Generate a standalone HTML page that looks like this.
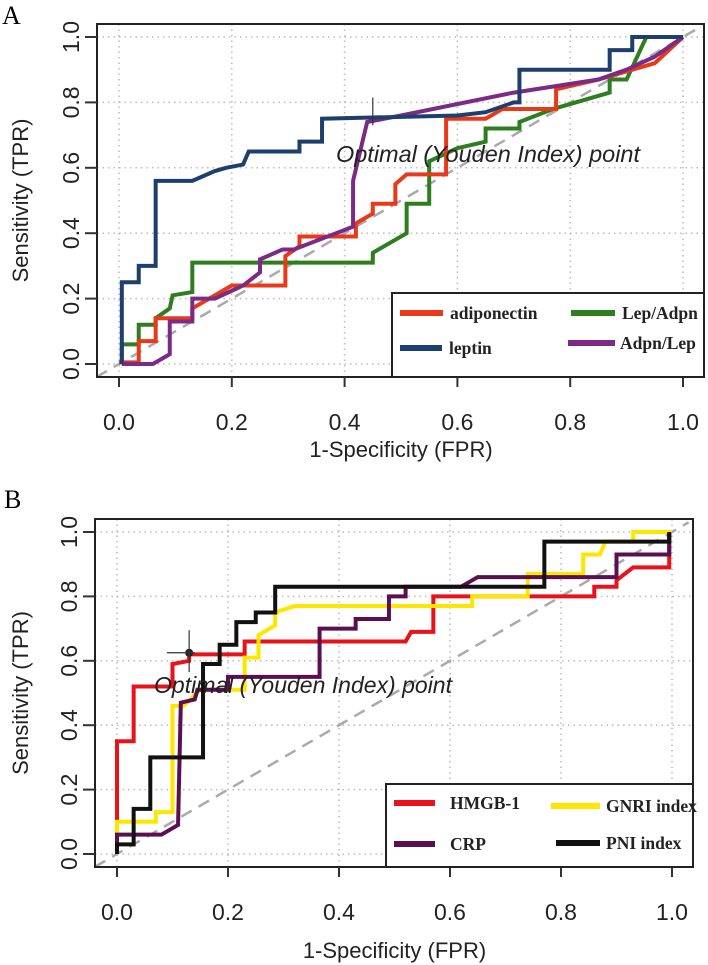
<!DOCTYPE html>
<html><head><meta charset="utf-8"><style>
body{margin:0;background:#fff;}
svg{display:block;font-family:"Liberation Sans",sans-serif;}
</style></head><body>
<svg id="fig" width="708" height="965"></svg>
<script>
const ticks=[0,0.2,0.4,0.6,0.8,1.0];
const tickLabels=["0.0","0.2","0.4","0.6","0.8","1.0"];
const seriesAnames=["adiponectin","leptin","Lep/Adpn","Adpn/Lep"];
const adiponectin=[[0,0.005],[0.035,0.005],[0.035,0.07],[0.065,0.07],[0.065,0.14],[0.13,0.14],[0.13,0.17],[0.20,0.24],[0.295,0.24],[0.295,0.33],[0.32,0.36],[0.32,0.39],[0.42,0.39],[0.42,0.43],[0.45,0.46],[0.45,0.49],[0.49,0.49],[0.49,0.55],[0.51,0.58],[0.58,0.58],[0.58,0.75],[0.65,0.75],[0.68,0.78],[0.775,0.78],[0.775,0.84],[0.85,0.87],[0.95,0.92],[1,1]];
const leptin=[[0.005,0],[0.005,0.25],[0.035,0.25],[0.035,0.30],[0.065,0.30],[0.065,0.56],[0.13,0.56],[0.17,0.59],[0.19,0.60],[0.22,0.61],[0.23,0.65],[0.32,0.65],[0.32,0.68],[0.36,0.68],[0.36,0.75],[0.6,0.76],[0.65,0.77],[0.70,0.80],[0.71,0.80],[0.71,0.90],[0.87,0.90],[0.87,0.96],[0.91,0.96],[0.91,1.0],[1,1]];
const lepAdpn=[[0.005,0],[0.005,0.06],[0.035,0.06],[0.035,0.12],[0.065,0.12],[0.065,0.14],[0.09,0.17],[0.095,0.21],[0.13,0.22],[0.13,0.31],[0.45,0.31],[0.45,0.34],[0.51,0.40],[0.51,0.49],[0.55,0.49],[0.55,0.62],[0.6,0.66],[0.65,0.68],[0.65,0.72],[0.71,0.72],[0.71,0.74],[0.77,0.78],[0.87,0.83],[0.87,0.87],[0.90,0.87],[0.935,1.0],[1,1]];
const adpnLep=[[0.005,0],[0.06,0],[0.09,0.03],[0.09,0.13],[0.13,0.13],[0.13,0.2],[0.17,0.2],[0.22,0.24],[0.25,0.28],[0.25,0.32],[0.29,0.35],[0.31,0.35],[0.4,0.41],[0.415,0.42],[0.415,0.56],[0.44,0.74],[0.5,0.76],[0.7,0.83],[0.85,0.87],[0.9,0.9],[0.95,0.94],[1,1]];
const optimalA=[0.45,0.75];
const hmgb1=[[0,0],[0,0.35],[0.03,0.35],[0.03,0.52],[0.10,0.52],[0.10,0.59],[0.13,0.60],[0.13,0.62],[0.23,0.62],[0.23,0.66],[0.52,0.66],[0.53,0.69],[0.57,0.69],[0.57,0.80],[0.86,0.80],[0.86,0.83],[0.9,0.83],[0.9,0.85],[0.93,0.89],[0.995,0.89],[0.995,1.0]];
const gnri=[[0,0],[0,0.1],[0.07,0.1],[0.07,0.13],[0.10,0.13],[0.10,0.46],[0.12,0.46],[0.15,0.51],[0.23,0.51],[0.23,0.61],[0.255,0.61],[0.255,0.68],[0.285,0.71],[0.285,0.75],[0.32,0.77],[0.64,0.77],[0.64,0.80],[0.74,0.80],[0.74,0.87],[0.84,0.87],[0.84,0.93],[0.87,0.93],[0.88,0.97],[0.93,0.97],[0.93,1.0],[1,1]];
const crp=[[0,0],[0,0.06],[0.08,0.06],[0.11,0.09],[0.115,0.47],[0.14,0.48],[0.145,0.51],[0.2,0.51],[0.2,0.55],[0.365,0.55],[0.365,0.70],[0.43,0.70],[0.43,0.73],[0.49,0.73],[0.49,0.80],[0.52,0.80],[0.52,0.83],[0.62,0.83],[0.65,0.86],[0.9,0.86],[0.9,0.93],[0.995,0.93],[0.995,1.0]];
const pni=[[0,0],[0,0.03],[0.03,0.03],[0.03,0.14],[0.06,0.14],[0.06,0.30],[0.155,0.30],[0.155,0.59],[0.185,0.59],[0.185,0.65],[0.215,0.65],[0.215,0.72],[0.25,0.72],[0.25,0.75],[0.285,0.75],[0.285,0.83],[0.77,0.83],[0.77,0.97],[0.995,0.97],[0.995,1.0]];
const optimalB=[0.13,0.625];

const NS="http://www.w3.org/2000/svg";
const svg=document.getElementById('fig');
function mk(tag,attrs,parent){const e=document.createElementNS(NS,tag);for(const k in attrs)e.setAttribute(k,attrs[k]);(parent||svg).appendChild(e);return e;}

function panel(P){
  const g=mk('g',{});
  
  
  const sx=v=>P.x0+v*(P.x1-P.x0), sy=v=>P.y0+v*(P.y1-P.y0);
  const lbl=mk('text',{x:P.lx,y:P.ly,'font-family':'Liberation Serif','font-size':26},g);lbl.textContent=P.letter;
  
  
  ticks.forEach(t=>{
    mk('line',{x1:sx(t),x2:sx(t),y1:P.by0,y2:P.by1,stroke:'#bbb','stroke-width':1.5,'stroke-dasharray':'1.5 4'},g);
    mk('line',{x1:P.bx0,x2:P.bx1,y1:sy(t),y2:sy(t),stroke:'#bbb','stroke-width':1.5,'stroke-dasharray':'1.5 4'},g);
  });
  mk('line',{x1:sx(-0.04),y1:sy(-0.04),x2:sx(1.03),y2:sy(1.03),stroke:'#aaa','stroke-width':2.5,'stroke-dasharray':'12 8'},g);
  P.series.forEach(s=>{
    const pl=mk('polyline',{points:s.d.map(p=>sx(p[0])+','+sy(p[1])).join(' '),fill:'none',stroke:s.c,'stroke-width':4,'stroke-linejoin':'miter'},g);
    
    
  });
  const o=P.opt;
  if(P.dot){mk('circle',{cx:sx(o[0]),cy:sy(o[1]),r:4,fill:'#222'},g);
    mk('line',{x1:sx(o[0]-0.04),x2:sx(o[0]+0.01),y1:sy(o[1]),y2:sy(o[1]),stroke:'#333','stroke-width':1.2},g);
    mk('line',{x1:sx(o[0]),x2:sx(o[0]),y1:sy(o[1]+0.07),y2:sy(o[1]-0.06),stroke:'#333','stroke-width':1.2},g);}
  else{mk('line',{x1:sx(o[0]),x2:sx(o[0]),y1:sy(o[1]+0.065),y2:sy(o[1]-0.02),stroke:'#333','stroke-width':1.2},g);}
  const ot=mk('text',{x:P.tx,y:P.ty,'font-size':23,'font-style':'italic',fill:'#222',textLength:P.tw,lengthAdjust:'spacingAndGlyphs'},g);
  ot.textContent='Optimal (Youden Index) point';
  
  
  mk('rect',{x:P.bx0,y:P.by0,width:P.bx1-P.bx0,height:P.by1-P.by0,fill:'none',stroke:'#222','stroke-width':2},g);
  ticks.forEach((t,i)=>{
    mk('line',{x1:sx(t),x2:sx(t),y1:P.by1,y2:P.by1+10,stroke:'#333','stroke-width':2},g);
    const tx=mk('text',{x:sx(t),y:P.xly,'font-size':23,'text-anchor':'middle',fill:'#222'},g);tx.textContent=tickLabels[i];
    
    
    mk('line',{x1:P.bx0-12,x2:P.bx0,y1:sy(t),y2:sy(t),stroke:'#333','stroke-width':2},g);
    const ty=mk('text',{x:0,y:0,'font-size':23,'text-anchor':'middle',fill:'#222',transform:`translate(${P.bx0-18},${sy(t)}) rotate(-90)`},g);ty.textContent=tickLabels[i];
    
    
  });
  const xt=mk('text',{x:(P.x0+P.x1)/2,y:P.xty,'font-size':22,'text-anchor':'middle',fill:'#222'},g);xt.textContent='1-Specificity (FPR)';
  
  
  const yt=mk('text',{x:0,y:0,'font-size':22,'text-anchor':'middle',fill:'#222',transform:`translate(28,${(P.by0+P.by1)/2}) rotate(-90)`},g);yt.textContent='Sensitivity (TPR)';
  
  
  const L=P.leg;
  const lg=mk('g',{},g);
  
  
  mk('rect',{x:L.x,y:L.y,width:P.bx1-L.x,height:P.by1-L.y,fill:'#fff',stroke:'#222','stroke-width':2},lg);
  L.items.forEach(it=>{
    const e=mk('g',{},lg);
    
    
    mk('line',{x1:it.x1,x2:it.x2,y1:it.y,y2:it.y,stroke:it.c,'stroke-width':6},e);
    const t=mk('text',{x:it.tx,y:it.y+6,'font-family':'Liberation Serif','font-weight':'bold','font-size':17.5,fill:'#222'},e);t.textContent=it.t;
  });
}

panel({id:'a',letter:'A',lx:2,ly:24,x0:119,x1:683,y0:364,y1:37,bx0:97,bx1:704,by0:24,by1:377,xly:430,xty:457,
  opt:optimalA,dot:false,tx:336,ty:162,tw:304,
  series:[{name:'lep-adpn',d:lepAdpn,c:'#2e7d1f'},{name:'adiponectin',d:adiponectin,c:'#e8391a'},{name:'adpn-lep',d:adpnLep,c:'#7b2a86'},{name:'leptin',d:leptin,c:'#1c3f6e'}],
  leg:{x:392,y:293,items:[
    {x1:400,x2:443,y:313,tx:450,t:'adiponectin',c:'#e8391a'},
    {x1:571,x2:615,y:313,tx:622,t:'Lep/Adpn',c:'#2e7d1f'},
    {x1:400,x2:442,y:348,tx:449,t:'leptin',c:'#1c3f6e'},
    {x1:568,x2:615,y:343,tx:620,t:'Adpn/Lep',c:'#7b2a86'}]}});

panel({id:'b',letter:'B',lx:4,ly:508,x0:117,x1:672,y0:854,y1:532,bx0:95,bx1:693,by0:519,by1:867,xly:920,xty:958,
  opt:optimalB,dot:true,tx:154,ty:693,tw:298,
  series:[{name:'hmgb1',d:hmgb1,c:'#e8121a'},{name:'gnri',d:gnri,c:'#ffe600'},{name:'crp',d:crp,c:'#5a1050'},{name:'pni',d:pni,c:'#111'}],
  leg:{x:386,y:784,items:[
    {x1:394,x2:435,y:803,tx:450,t:'HMGB-1',c:'#e8121a'},
    {x1:551,x2:600,y:806,tx:606,t:'GNRI index',c:'#ffe600'},
    {x1:394,x2:435,y:844,tx:450,t:'CRP',c:'#5a1050'},
    {x1:556,x2:600,y:843,tx:606,t:'PNI index',c:'#111'}]}});
</script>
</body></html>
